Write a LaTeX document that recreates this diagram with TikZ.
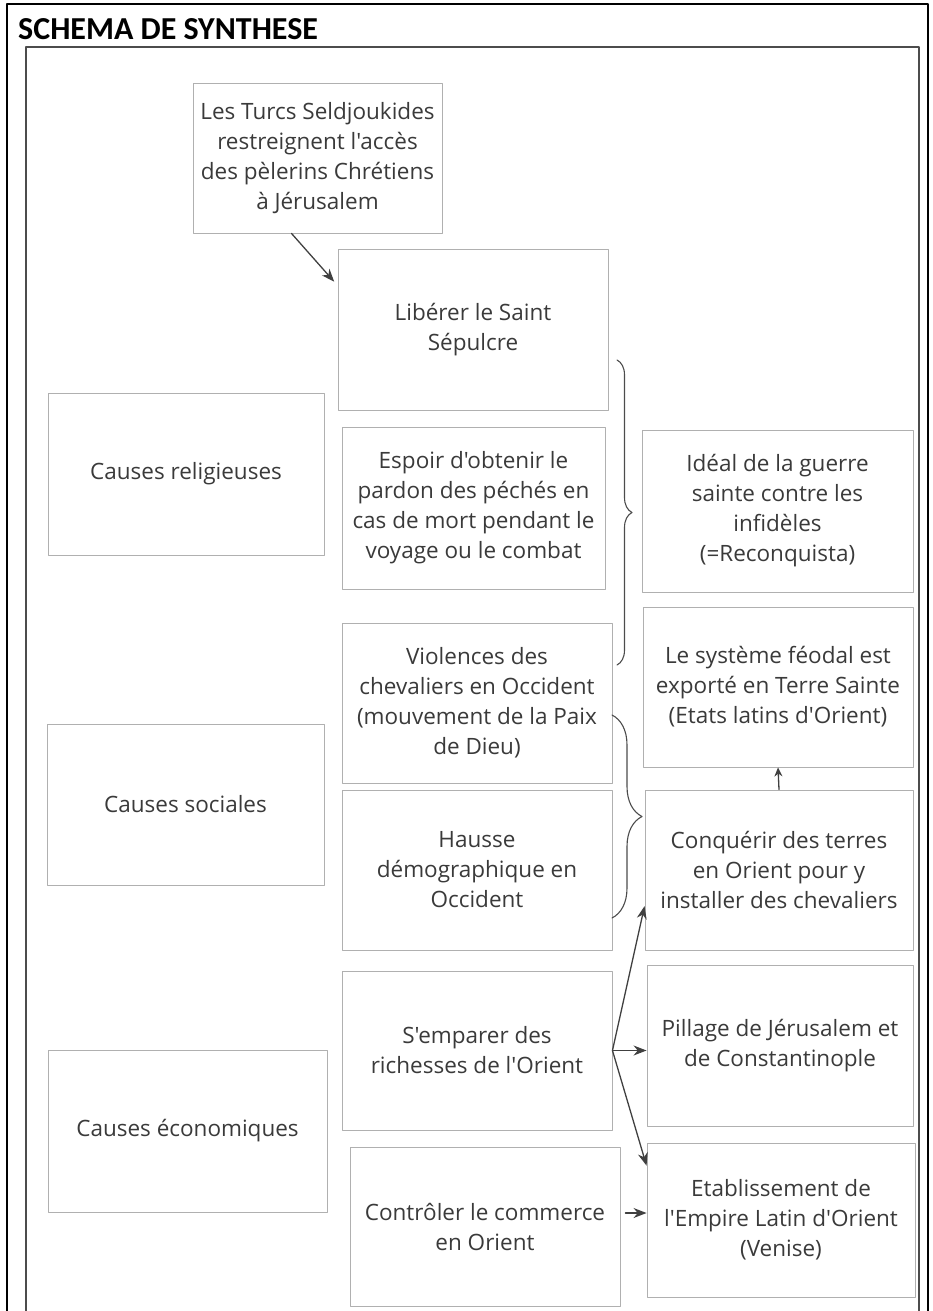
\documentclass[tikz,border=0pt]{standalone}
\usepackage{fontspec}
\newfontfamily\schfont{Open Sans}
\newfontfamily\titlefont{Carlito}
\usetikzlibrary{arrows.meta,decorations.pathreplacing}
\definecolor{txtgray}{HTML}{3A3A3A}
\definecolor{boxgray}{HTML}{B0B0B0}
\begin{document}
\begin{tikzpicture}[x=1pt, y=-1pt, font=\schfont\fontsize{22.5}{30}\selectfont, line join=round, line cap=round, >={Stealth[length=13pt,width=10pt]},
	box/.style={draw=boxgray, line width=0.9pt, text=txtgray, align=center, inner sep=0pt, minimum width=270pt, minimum height=160pt},
	arr/.style={->, draw=black!75, line width=1.3pt},
	brc/.style={decorate, decoration={brace, amplitude=#1}, draw=black!70, line width=1.1pt}]
	\useasboundingbox (0,0) rectangle (933,1311);
	% cadre
	\draw[line width=2pt] (7,1311)--(7,4)--(928,4)--(928,1311);
	\draw[black!70, line width=1.2pt] (26,1311)--(26,47)--(919,47)--(919,1311);
	\node[font=\titlefont\fontsize{32}{36}\selectfont\bfseries, anchor=base west, inner sep=0pt] (titre) at (18,40) {SCHEMA DE SYNTHESE};
	% causes
	\node[box, minimum width=276pt, minimum height=162pt] (relig) at (186,474) {Causes religieuses};
	\node[box, minimum width=277pt, minimum height=161pt] (sociales) at (185.5,804.5) {Causes sociales};
	\node[box, minimum width=279pt, minimum height=162pt] (econ) at (187.5,1131) {Causes économiques};
	% colonne du milieu
	\node[box, minimum width=249pt, minimum height=150pt] (turcs) at (317.5,158) {Les Turcs Seldjoukides\\restreignent l'accès\\des pèlerins Chrétiens\\à Jérusalem};
	\node[box, minimum height=161pt] (liberer) at (473,329.5) {Libérer le Saint\\Sépulcre};
	\node[box, minimum width=263pt, minimum height=162pt] (espoir) at (473.5,508) {Espoir d'obtenir le\\pardon des péchés en\\cas de mort pendant le\\voyage ou le combat};
	\node[box] (violences) at (477,703) {Violences des\\chevaliers en Occident\\(mouvement de la Paix\\de Dieu)};
	\node[box] (hausse) at (477,870) {Hausse\\démographique en\\Occident};
	\node[box, minimum height=159pt] (emparer) at (477,1050.5) {S'emparer des\\richesses de l'Orient};
	\node[box, minimum height=159pt] (controler) at (485,1226.5) {Contrôler le commerce\\en Orient};
	% consequences
	\node[box, minimum width=271pt, minimum height=162pt] (ideal) at (777.5,511) {Idéal de la guerre\\sainte contre les\\infidèles\\(=Reconquista)};
	\node[box] (systeme) at (778,687) {Le système féodal est\\exporté en Terre Sainte\\(Etats latins d'Orient)};
	\node[box, minimum width=268pt] (conquerir) at (779,870) {Conquérir des terres\\en Orient pour y\\installer des chevaliers};
	\node[box, minimum width=266pt, minimum height=161pt] (pillage) at (780,1045.5) {Pillage de Jérusalem et\\de Constantinople};
	\node[box, minimum width=268pt, minimum height=154pt] (etabl) at (781,1220) {Etablissement de\\l'Empire Latin d'Orient\\(Venise)};
	% accolades
	\draw[brc=15pt] (617,360)--(617,665);
	\draw[brc=30pt] (612,715)--(612,918);
	% fleches
	\coordinate (c1) at ([xshift=5pt,yshift=13.5pt]controler.east);
	\draw[arr, shorten >=5pt] (turcs.251)--(liberer.162);
	\draw[arr] (emparer.east)--(conquerir.195);
	\draw[arr] (emparer.east)--(pillage.west |- emparer.east);
	\draw[arr] (emparer.east)--(etabl.158);
	\draw[arr] (c1)--(etabl.west |- c1);
	\draw[arr, >={Stealth[length=9pt,width=8pt]}] (conquerir.north)--(systeme.south);
\end{tikzpicture}
\end{document}
